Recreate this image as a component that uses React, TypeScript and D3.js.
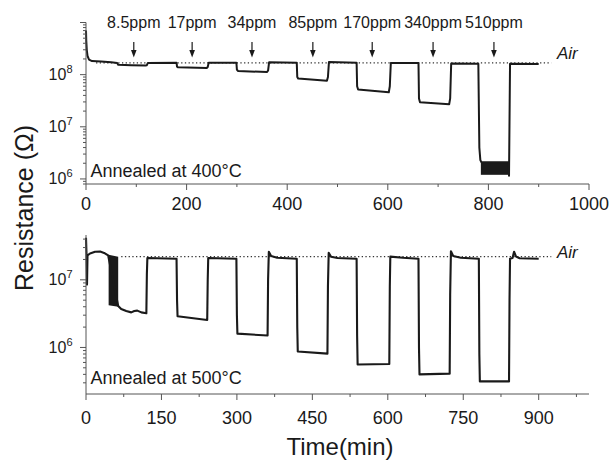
import { useEffect, useRef } from "react";
import * as d3 from "d3";

// gas concentrations and where the arrows sit (min)
const PPM_LABELS = ["8.5ppm", "17ppm", "34ppm", "85ppm", "170ppm", "340ppm", "510ppm"];
const ARROW_TIMES = [95, 211, 330, 451, 569, 690, 811];

const X_TICKS_TOP = [0, 200, 400, 600, 800, 1000];
const X_MINOR_TOP = [100, 300, 500, 700, 900];
const X_TICKS_BOTTOM = [0, 150, 300, 450, 600, 750, 900];
const X_MINOR_BOTTOM = [75, 225, 375, 525, 675, 825, 975];

const Y_LABELS_TOP = [1e6, 1e7, 1e8];
const Y_LABELS_BOTTOM = [1e6, 1e7];

const AIR_400 = 1.68e8;
const AIR_500 = 2.2e7;

// [time, resistance]
const CURVE_400: [number, number][] = [
  [0, 7e8], [0.5, 4.5e8], [1.5, 3e8], [3, 2.3e8], [6, 1.95e8], [12, 1.82e8],
  [30, 1.78e8], [50, 1.72e8], [62, 1.68e8], [64, 1.55e8], [90, 1.52e8], [118, 1.5e8],
  [121, 1.52e8], [123, 1.68e8], [180, 1.7e8], [181, 1.42e8], [183, 1.38e8], [240, 1.34e8],
  [242, 1.4e8], [244, 1.7e8], [299, 1.7e8], [300, 1.25e8], [302, 1.18e8], [360, 1.12e8],
  [362, 1.2e8], [364, 1.72e8], [419, 1.7e8], [420, 9e7], [422, 8.4e7], [479, 7.6e7],
  [481, 9e7], [483, 1.74e8], [538, 1.7e8], [539, 6e7], [541, 5.2e7], [602, 4.6e7],
  [604, 6e7], [606, 1.68e8], [661, 1.68e8], [662, 3.5e7], [664, 2.95e7], [722, 2.7e7],
  [724, 3.5e7], [726, 1.63e8], [780, 1.62e8], [782, 4e6], [784, 2.3e6], [786, 2.1e6],
  [840, 2.1e6], [841, 1.15e6], [843, 1.62e8], [900, 1.6e8],
];
// [time, low, high] noisy band
const NOISE_400: [number, number, number][] = [
  [785, 1.2e6, 2.1e6], [841, 1.2e6, 2.1e6],
];

const CURVE_500: [number, number][] = [
  [0, 4.2e7], [1, 2.4e7], [2, 8.5e6], [3, 2.3e7], [8, 2.45e7], [18, 2.6e7],
  [28, 2.62e7], [36, 2.5e7], [44, 2.3e7], [64, 4.1e6], [70, 3.7e6], [80, 3.45e6],
  [90, 3.3e6], [96, 3.45e6], [102, 3.5e6], [110, 3.3e6], [120, 3.2e6], [121, 1.2e7],
  [122, 2.1e7], [180, 2.05e7], [181, 5e6], [182, 2.9e6], [241, 2.55e6], [242, 1e7],
  [243, 2.1e7], [299, 2.05e7], [300, 3e6], [301, 1.6e6], [361, 1.5e6], [362, 1e7],
  [363.5, 2.6e7], [368, 2.25e7], [380, 2.12e7], [419, 2.05e7], [420, 2e6], [421, 8.7e5],
  [480, 8.1e5], [481, 8e6], [482.5, 2.5e7], [487, 2.2e7], [500, 2.1e7], [538, 2.05e7],
  [539, 1.5e6], [540, 5.6e5], [603, 5.7e5], [604, 8e6], [605, 2.2e7], [630, 2.12e7],
  [661, 2.05e7], [662, 1e6], [663, 4e5], [723, 4.1e5], [724, 6e6], [725.5, 2.65e7],
  [730, 2.25e7], [745, 2.12e7], [781, 2.05e7], [782, 8e5], [783, 3.15e5], [841, 3.15e5],
  [842, 5e6], [843, 2.05e7], [848, 2.1e7], [851, 2.6e7], [855, 2.2e7], [862, 2.08e7],
  [900, 2.05e7],
];
const NOISE_500: [number, number, number][] = [
  [45, 4.2e6, 2.35e7], [64, 4e6, 2.2e7],
];

const WIDTH = 613;
const HEIGHT = 460;
const FONT = "'Liberation Sans', Arial, sans-serif";
const INK = "#1a1a1a";
const AXIS = "#555";

const App = () => {
  const svgRef = useRef<SVGSVGElement>(null);

  useEffect(() => {
    const svg = d3.select(svgRef.current);
    svg.selectAll("*").remove();

    const x = d3.scaleLinear().domain([0, 1000]).range([86, 589]);

    const panels = [
      {
        y: d3.scaleLog().domain([8e5, 1e9]).range([184, 22.5]),
        curve: CURVE_400, noise: NOISE_400, air: AIR_400, airFrom: 20,
        xTicks: X_TICKS_TOP, xMinor: X_MINOR_TOP, xLabelY: 210,
        yLabels: Y_LABELS_TOP, title: "Annealed at 400°C", titleY: 176.5,
        airY: 59, width: 2,
      },
      {
        y: d3.scaleLog().domain([2.05e5, 4.6e7]).range([394, 235]),
        curve: CURVE_500, noise: NOISE_500, air: AIR_500, airFrom: 70,
        xTicks: X_TICKS_BOTTOM, xMinor: X_MINOR_BOTTOM, xLabelY: 424,
        yLabels: Y_LABELS_BOTTOM, title: "Annealed at 500°C", titleY: 384,
        airY: 258, width: 2.1,
      },
    ];

    panels.forEach((p) => {
      const [y0, y1] = p.y.range();
      const g = svg.append("g");

      // dotted air reference
      g.append("line")
        .attr("x1", x(p.airFrom)).attr("x2", x(925))
        .attr("y1", p.y(p.air)).attr("y2", p.y(p.air))
        .attr("stroke", "#333").attr("stroke-width", 1.1)
        .attr("stroke-dasharray", "1.3,2.4");

      g.append("text")
        .attr("x", 557).attr("y", p.airY)
        .attr("font-family", FONT).attr("font-size", 17)
        .attr("font-style", "italic").attr("fill", INK)
        .text("Air");

      // noisy band
      const area = d3.area<[number, number, number]>()
        .x((d) => x(d[0])).y0((d) => p.y(d[1])).y1((d) => p.y(d[2]));
      g.append("path").datum(p.noise).attr("d", area).attr("fill", INK);

      const line = d3.line<[number, number]>().x((d) => x(d[0])).y((d) => p.y(d[1]));
      g.append("path").datum(p.curve)
        .attr("d", line).attr("fill", "none")
        .attr("stroke", INK).attr("stroke-width", p.width)
        .attr("stroke-linejoin", "round");

      // axes
      g.append("line").attr("x1", x(0)).attr("x2", x(1000))
        .attr("y1", y0).attr("y2", y0).attr("stroke", AXIS);
      g.append("line").attr("x1", x(0)).attr("x2", x(0))
        .attr("y1", y0).attr("y2", y1).attr("stroke", AXIS);

      p.xTicks.forEach((t) => {
        g.append("line").attr("x1", x(t)).attr("x2", x(t))
          .attr("y1", y0).attr("y2", y0 + 6).attr("stroke", AXIS);
        g.append("text").attr("x", x(t)).attr("y", p.xLabelY)
          .attr("text-anchor", "middle").attr("font-family", FONT)
          .attr("font-size", 18).attr("fill", INK).text(t);
      });
      p.xMinor.forEach((t) => {
        g.append("line").attr("x1", x(t)).attr("x2", x(t))
          .attr("y1", y0).attr("y2", y0 + 3).attr("stroke", AXIS);
      });

      // log ticks
      const [d0, d1] = p.y.domain();
      for (let e = Math.floor(Math.log10(d0)); e <= Math.ceil(Math.log10(d1)); e++) {
        for (let k = 1; k <= 9; k++) {
          const v = k * Math.pow(10, e);
          if (v < d0 || v > d1 * 1.0001) continue;
          g.append("line").attr("x1", x(0)).attr("x2", x(0) - (k === 1 ? 6 : 3))
            .attr("y1", p.y(v)).attr("y2", p.y(v)).attr("stroke", AXIS);
        }
      }
      p.yLabels.forEach((v) => {
        const txt = g.append("text").attr("x", 72.5).attr("y", p.y(v) + 5.5)
          .attr("text-anchor", "end").attr("font-family", FONT)
          .attr("font-size", 16).attr("fill", INK);
        txt.append("tspan").text("10");
        txt.append("tspan").attr("dy", -7).attr("font-size", 11)
          .text(Math.round(Math.log10(v)));
      });

      g.append("text").attr("x", 90.5).attr("y", p.titleY)
        .attr("font-family", FONT).attr("font-size", 18).attr("fill", INK)
        .text(p.title);
    });

    // concentration arrows
    ARROW_TIMES.forEach((t, i) => {
      const ax = x(t);
      svg.append("line").attr("x1", ax).attr("x2", ax).attr("y1", 42).attr("y2", 51)
        .attr("stroke", INK).attr("stroke-width", 1.2);
      svg.append("path").attr("d", `M${ax - 2.8},50 L${ax + 2.8},50 L${ax},57.5 Z`)
        .attr("fill", INK);
      svg.append("text").attr("x", ax).attr("y", 27.5)
        .attr("text-anchor", "middle").attr("font-family", FONT)
        .attr("font-size", 16).attr("fill", INK).text(PPM_LABELS[i]);
    });

    svg.append("text")
      .attr("transform", "translate(33,208) rotate(-90)")
      .attr("text-anchor", "middle").attr("font-family", FONT)
      .attr("font-size", 25).attr("fill", INK)
      .text("Resistance (Ω)");

    svg.append("text").attr("x", 340).attr("y", 455)
      .attr("text-anchor", "middle").attr("font-family", FONT)
      .attr("font-size", 24).attr("fill", INK).text("Time(min)");
  }, []);

  return (
    <svg
      ref={svgRef}
      width={WIDTH}
      height={HEIGHT}
      style={{ position: "absolute", left: 0, top: 0, background: "#fff" }}
    />
  );
};

export default App;
